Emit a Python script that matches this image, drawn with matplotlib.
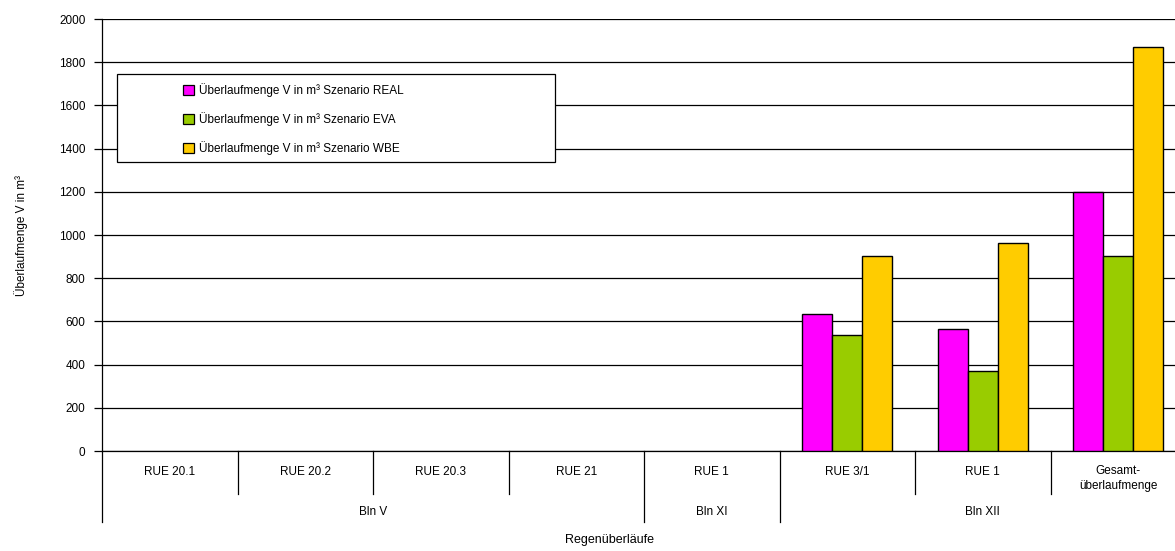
import numpy as np
import matplotlib
matplotlib.use('Agg')
import matplotlib.pyplot as plt
from matplotlib.patches import Rectangle, Patch

plt.rcParams['font.family'] = ['Liberation Sans', 'DejaVu Sans']

categories = ['RUE 20.1', 'RUE 20.2', 'RUE 20.3', 'RUE 21', 'RUE 1',
              'RUE 3/1', 'RUE 1', 'Gesamt-\nüberlaufmenge']
groups = ['Bln V', 'Bln XI', 'Bln XII']
group_spans = [(0, 3), (4, 4), (5, 7)]  # first / last category index

series_names = ['Überlaufmenge V in m³ Szenario REAL',
                'Überlaufmenge V in m³ Szenario EVA',
                'Überlaufmenge V in m³ Szenario WBE']
real = [0, 0, 0, 0, 0, 635, 565, 1200]
eva = [0, 0, 0, 0, 0, 535, 370, 905]
wbe = [0, 0, 0, 0, 0, 905, 965, 1870]
colors = ['#ff00ff', '#99cc00', '#ffcc00']

W, H = 1175, 551
fig = plt.figure(figsize=(W / 100, H / 100), dpi=100)
# plot area: x 102..1186 px (cut at right edge), y 19..451 px
ax = fig.add_axes([102 / W, (H - 451) / H, 1084 / W, 432 / H])

x = np.arange(len(categories))
bw = 0.222
for i, (vals, c) in enumerate(zip([real, eva, wbe], colors)):
    v = np.array(vals, dtype=float)
    m = v > 0
    ax.bar(x[m] + (i - 1) * bw, v[m], width=bw, color=c,
           edgecolor='black', linewidth=1, zorder=3)

ax.set_xlim(-0.5, len(categories) - 0.5)
ax.set_ylim(0, 2000)
ax.set_yticks(range(0, 2001, 200))
ax.yaxis.grid(True, color='black', linewidth=0.9, zorder=0)
ax.tick_params(axis='y', direction='out', length=6, width=0.9,
               labelsize=8.5, pad=6, color='black')
ax.set_xticks([])
for s in ['top', 'right']:
    ax.spines[s].set_visible(False)
ax.spines['left'].set_linewidth(0.9)
ax.spines['bottom'].set_linewidth(0.9)

ax.set_ylabel('Überlaufmenge V in m³', fontsize=8.5, labelpad=22)

# multi-level category axis
tr = ax.get_xaxis_transform()
px = 1 / 432  # one pixel in axes fraction
for i, lab in enumerate(categories):
    if '\n' in lab:
        ax.text(x[i], -14 * px, lab, transform=tr, ha='center', va='top',
                fontsize=8.5, linespacing=1.35)
    else:
        ax.text(x[i], -21 * px, lab, transform=tr, ha='center',
                va='center', fontsize=8.5)
group_edges = [s[0] - 0.5 for s in group_spans] + [group_spans[-1][1] + 0.5]
for b in np.arange(0.5, len(categories) - 0.5, 1.0):
    bottom = -71 * px if (b in group_edges) else -43 * px
    ax.plot([b, b], [0, bottom], transform=tr, color='black',
            linewidth=0.9, clip_on=False)
ax.plot([-0.5, -0.5], [0, -71 * px], transform=tr, color='black',
        linewidth=0.9, clip_on=False)
for g, (a, b) in zip(groups, group_spans):
    ax.text((a + b) / 2, -61 * px, g, transform=tr, ha='center',
            va='center', fontsize=8.5)

fig.text(610 / W, 1 - 540 / H, 'Regenüberläufe', ha='center',
         va='center', fontsize=9)

# legend box
fig.patches.append(Rectangle((117 / W, 1 - 162 / H), 438 / W, 88 / H,
                             transform=fig.transFigure, facecolor='white',
                             edgecolor='black', linewidth=0.9, zorder=5))
handles = [Patch(facecolor=c, edgecolor='black', linewidth=0.9)
           for c in colors]
leg = fig.legend(handles, series_names, loc='upper left',
                 bbox_to_anchor=(177 / W, 1 - 77 / H), frameon=False,
                 fontsize=8.5, handlelength=0.9, handleheight=0.9,
                 handletextpad=0.5, labelspacing=1.3, borderpad=0)
leg.set_zorder(6)

fig.savefig('out.png', dpi=100)
